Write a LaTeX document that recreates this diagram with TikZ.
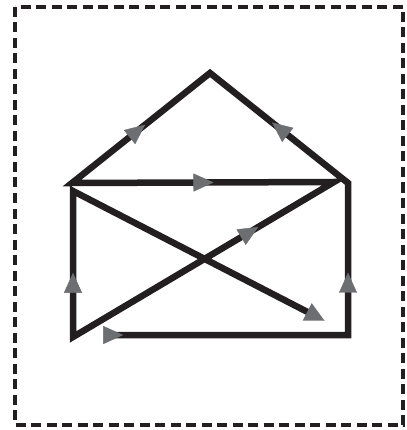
\documentclass[tikz,border=0pt]{standalone}
\usepackage{tikz}
\usetikzlibrary{arrows.meta,decorations.markings}

\definecolor{inkblack}{HTML}{231F20}
\definecolor{tipgray}{HTML}{6D6E71}

\tikzset{
  stroke/.style={line width=6.5pt, draw=inkblack, line join=miter},
  flowtip/.tip={Triangle[length=20pt, width=18pt, color=tipgray]},
  midarrow/.style={postaction={decorate}, decoration={markings,
    mark=at position #1 with {\arrow{flowtip}}}}
}

\begin{document}
\begin{tikzpicture}[x=1pt, y=-1pt]
\useasboundingbox (0,0) rectangle (406,430);
\draw[line width=4.5pt, draw=inkblack, dash pattern=on 10pt off 5.5pt] (15,7) rectangle (403,425);
% corners of the envelope
\coordinate (start) at (105,335);
\coordinate (botR) at (348,335);
\coordinate (roofR) at (348,183);
\coordinate (apex) at (210,73);
\coordinate (roofL) at (72,183);
\coordinate (flap) at (334,182);
\coordinate (botL) at (73,337);
\coordinate (topL) at (73,191);
\coordinate (finish) at (325,321);
% one stroke, pen never lifted
\draw[stroke, -{flowtip}] (start) -- (botR) -- (roofR) -- (apex) -- (roofL)
  -- (flap) -- (botL) -- (topL) -- (finish);
% direction marks
\path[midarrow=0.53] (roofL) -- (apex);
\path[midarrow=0.55] (roofR) -- (apex);
\path[midarrow=0.54] (roofL) -- (flap);
\path[midarrow=0.71] (botL) -- (flap);
\path[midarrow=0.44] (botL) -- (topL);
\path[midarrow=0.41] (botR) -- (roofR);
\path[midarrow=0.075] (start) -- (botR);
\end{tikzpicture}
\end{document}
